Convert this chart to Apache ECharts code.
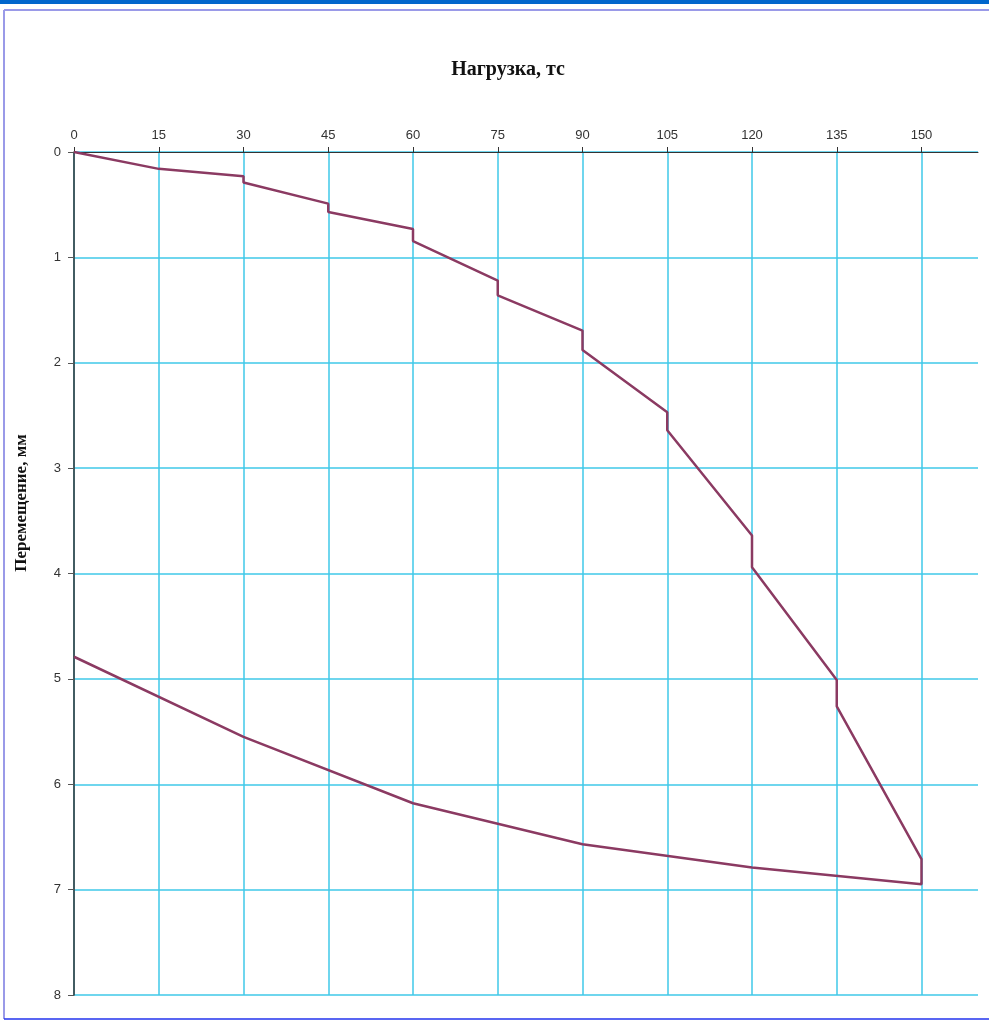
<!DOCTYPE html>
<html>
<head>
<meta charset="utf-8">
<script src="https://cdn.jsdelivr.net/npm/echarts@6/dist/echarts.min.js"></script>
<style>
html,body{margin:0;padding:0;background:#fff;}
#chart{width:989px;height:1021px;}
</style>
</head>
<body>
<div id="chart"></div>
<script>
// Load (тс) and displacement (мм) along the test path: loading with holds, then unloading
var loadX = [0, 15, 15, 30, 30, 45, 45, 60, 60, 75, 75, 90, 90, 105, 105, 120, 120, 135, 135, 150, 150, 120, 90, 60, 30, 0];
var dispY = [0, 0.16, 0.17, 0.23, 0.29, 0.49, 0.57, 0.73, 0.845, 1.22, 1.36, 1.695, 1.88, 2.47, 2.64, 3.64, 3.94, 5.01, 5.26, 6.71, 6.95, 6.79, 6.57, 6.18, 5.55, 4.79];
var xTicks = [0, 15, 30, 45, 60, 75, 90, 105, 120, 135, 150];
var yTicks = [0, 1, 2, 3, 4, 5, 6, 7, 8];
var xTitle = 'Нагрузка, тс';
var yTitle = 'Перемещение, мм';

var points = loadX.map(function (x, i) { return [x, dispY[i]]; });
var gridColor = '#3fc8e8';

var chart = echarts.init(document.getElementById('chart'));
chart.setOption({
  animation: false,
  backgroundColor: '#ffffff',
  grid: { left: 74, top: 152, right: 11, bottom: 26, containLabel: false },
  xAxis: {
    type: 'value',
    position: 'top',
    min: 0,
    max: 160,
    interval: 15,
    axisLine: { show: true, onZero: false, lineStyle: { color: '#333', width: 1 } },
    axisTick: { show: true, inside: false, length: 5, customValues: xTicks, lineStyle: { color: '#333' } },
    axisLabel: { show: true, customValues: xTicks, margin: 10, color: '#333', fontSize: 13, fontFamily: 'Liberation Sans, Arial, sans-serif' },
    splitLine: { show: true, lineStyle: { color: gridColor, width: 1.5 } }
  },
  yAxis: {
    type: 'value',
    inverse: true,
    min: 0,
    max: 8,
    interval: 1,
    axisLine: { show: true, onZero: false, lineStyle: { color: '#333', width: 1.5 } },
    axisTick: { show: true, inside: false, length: 6, lineStyle: { color: '#555' } },
    axisLabel: { show: true, margin: 13, color: '#333', fontSize: 13, fontFamily: 'Liberation Sans, Arial, sans-serif' },
    splitLine: { show: true, lineStyle: { color: gridColor, width: 1.5 } }
  },
  graphic: [
    { type: 'rect', left: 0, top: 0, shape: { width: 989, height: 4 }, style: { fill: '#0066cc' }, silent: true },
    { type: 'line', shape: { x1: 4, y1: 10, x2: 989, y2: 10 }, style: { stroke: '#9a9ae8', lineWidth: 2 }, silent: true },
    { type: 'line', shape: { x1: 4, y1: 10, x2: 4, y2: 1019 }, style: { stroke: '#9a9ae8', lineWidth: 2 }, silent: true },
    { type: 'line', shape: { x1: 4, y1: 1019, x2: 989, y2: 1019 }, style: { stroke: '#2233ee', lineWidth: 1.5 }, silent: true },
    { type: 'text', x: 508, y: 70, style: { text: xTitle, textAlign: 'center', textVerticalAlign: 'middle', font: 'bold 20px "Liberation Serif", "Times New Roman", serif', fill: '#111' }, silent: true },
    { type: 'text', x: 22, y: 503, rotation: Math.PI / 2, style: { text: yTitle, textAlign: 'center', textVerticalAlign: 'middle', font: 'bold 17px "Liberation Serif", "Times New Roman", serif', fill: '#111' }, silent: true }
  ],
  series: [{
    type: 'line',
    data: points,
    showSymbol: false,
    symbol: 'none',
    lineStyle: { color: '#8b3a62', width: 2.5 },
    z: 5
  }]
});
</script>
</body>
</html>
